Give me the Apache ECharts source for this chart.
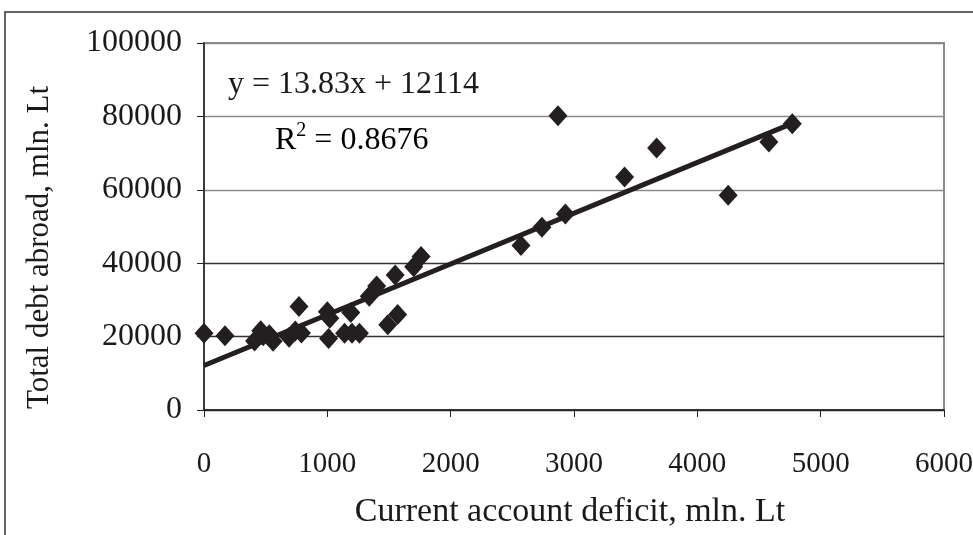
<!DOCTYPE html>
<html>
<head>
<meta charset="utf-8">
<script src="https://cdn.jsdelivr.net/npm/echarts@6/dist/echarts.min.js"></script>
<style>
  html, body { margin: 0; padding: 0; background: #fff; }
  #chart { width: 973px; height: 535px; }
</style>
</head>
<body>
<div id="chart"></div>
<script>
// deficit (x) vs total debt abroad (y), mln. Lt
const deficit = [0, 170, 410, 460, 480, 530, 560, 690, 740, 790, 770, 1000, 1020, 1010, 1140, 1190, 1200, 1260,
  1340, 1400, 1490, 1570, 1550, 1700, 1760, 2570, 2740, 2930, 2870, 3410, 3670, 4250, 4580, 4770];
const debt = [20900, 20200, 18800, 21600, 20200, 20500, 18700, 19800, 21500, 21000, 28200, 26800, 25000, 19500, 20900, 26600, 20900, 20900,
  31000, 33800, 23200, 26000, 36800, 39000, 41800, 44800, 49800, 53400, 80200, 63500, 71400, 58500, 73000, 78000];
const slope = 13.83;
const intercept = 12114;
const rSquared = '0.8676';

const points = deficit.map((x, i) => [x, debt[i]]);
const xEnd = Math.max(...deficit);
const trend = [[0, intercept], [xEnd, intercept + slope * xEnd]];

const chart = echarts.init(document.getElementById('chart'));
const font = '"Liberation Serif", "DejaVu Serif", serif';
const fs = 32;

chart.setOption({
  animation: false,
  textStyle: { fontFamily: font },
  grid: {
    left: 204, right: 29, top: 43, bottom: 125,
    outerBoundsMode: 'none',
    show: true, borderColor: '#8a8a8a', borderWidth: 2
  },
  xAxis: {
    type: 'value', min: 0, max: 6000, interval: 1000,
    name: 'Current account deficit, mln. Lt',
    nameLocation: 'middle', nameGap: 85,
    nameTextStyle: { fontFamily: font, fontSize: 34, color: '#1a1a1a', padding: [0, 8, 0, 0] },
    axisLine: { lineStyle: { color: '#222', width: 1.5 } },
    axisTick: { show: true, length: 7, lineStyle: { color: '#222' } },
    axisLabel: { margin: 40, fontFamily: font, fontSize: 29, color: '#1a1a1a', formatter: v => String(v) },
    splitLine: { show: false }
  },
  yAxis: {
    type: 'value', min: 0, max: 100000, interval: 20000,
    name: 'Total debt abroad, mln. Lt',
    nameLocation: 'middle', nameGap: 149,
    nameTextStyle: { fontFamily: font, fontSize: 31, color: '#1a1a1a', padding: [0, 42, 0, 0] },
    axisLine: { show: true, lineStyle: { color: '#222', width: 1.5 } },
    axisTick: { show: true, length: 7, lineStyle: { color: '#222' } },
    axisLabel: { margin: 22, fontFamily: font, fontSize: fs, color: '#1a1a1a', formatter: v => String(v) },
    splitLine: { lineStyle: { color: ['#333', '#333', '#333', '#8a8a8a', '#8a8a8a', '#8a8a8a'], width: 1.3 } }
  },
  series: [
    {
      type: 'scatter',
      data: points,
      symbol: 'diamond',
      symbolSize: [19, 21],
      itemStyle: { color: '#231f20', opacity: 1 },
      z: 3
    },
    {
      type: 'line',
      data: trend,
      showSymbol: false,
      lineStyle: { color: '#231f20', width: 5 },
      z: 4
    }
  ],
  graphic: [
    {
      type: 'rect', silent: true, z: -10,
      shape: { x: 5, y: 12, width: 1000, height: 600 },
      style: { fill: 'none', stroke: '#333', lineWidth: 1.5 }
    },
    {
      type: 'text', left: 228, top: 69, z: 10,
      style: { text: 'y = ' + slope + 'x + ' + intercept, font: fs + 'px ' + font, fill: '#1a1a1a' }
    },
    {
      type: 'text', left: 275, top: 121, z: 10,
      style: {
        text: '{b|R}{s|2}{b| = ' + rSquared + '}',
        rich: {
          b: { fontFamily: font, fontSize: fs, color: '#1a1a1a', verticalAlign: 'bottom' },
          s: { fontFamily: font, fontSize: 20, color: '#1a1a1a', verticalAlign: 'top', padding: [0, 0, 16, 0] }
        }
      }
    }
  ]
});
</script>
</body>
</html>
